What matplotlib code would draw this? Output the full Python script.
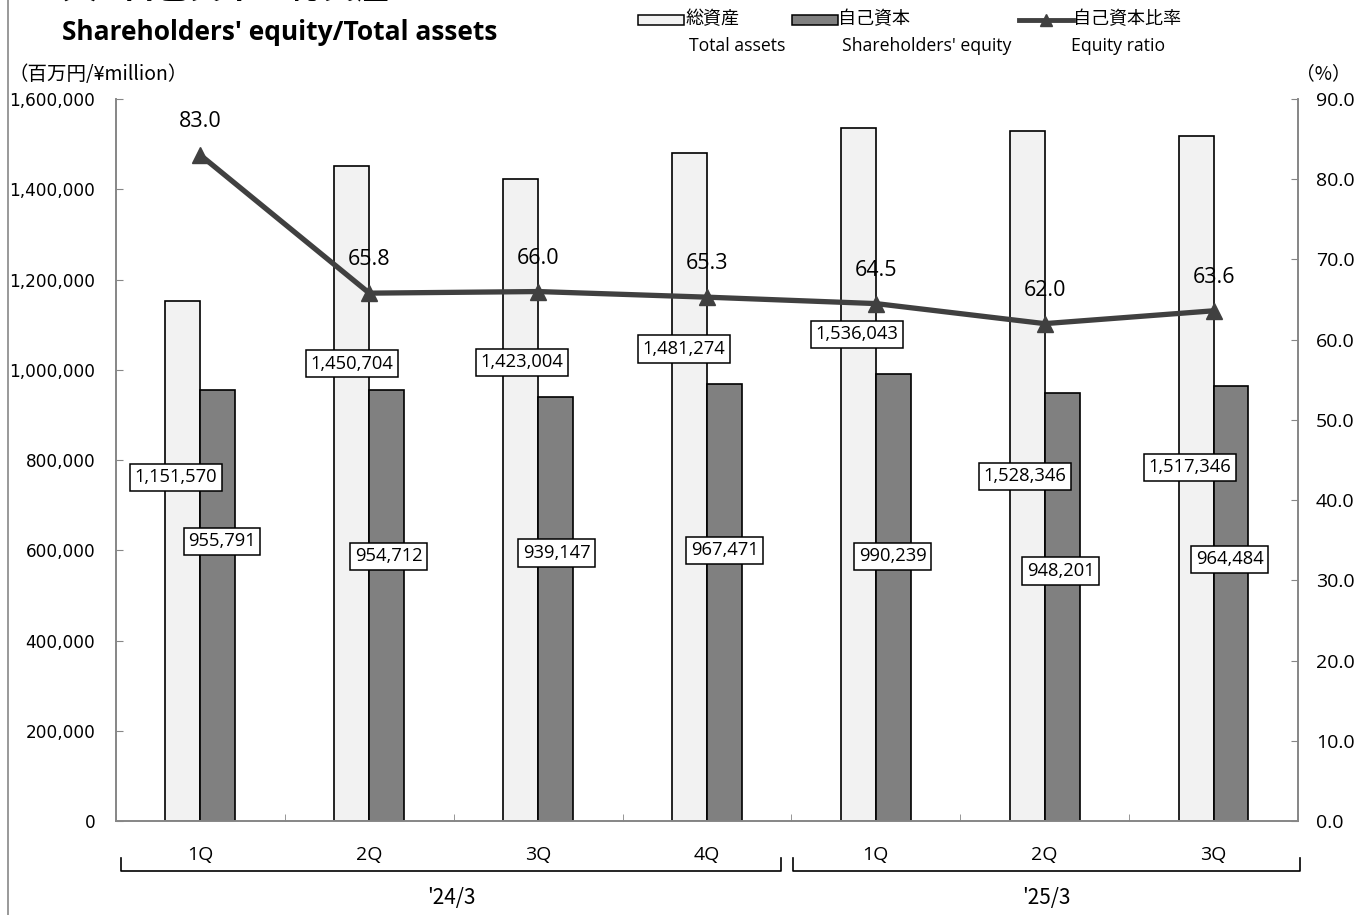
import matplotlib.pyplot as plt
from matplotlib.lines import Line2D
from matplotlib.patches import Rectangle
from matplotlib.ticker import FuncFormatter, MultipleLocator
import numpy as np

plt.rcParams['font.family'] = ['Open Sans', 'Noto Sans CJK JP', 'DejaVu Sans']

# data
quarters = ['1Q', '2Q', '3Q', '4Q', '1Q', '2Q', '3Q']
years = ["'24/3", "'25/3"]
total_assets = [1151570, 1450704, 1423004, 1481274, 1536043, 1528346, 1517346]
equity = [955791, 954712, 939147, 967471, 990239, 948201, 964484]
equity_ratio = [83.0, 65.8, 66.0, 65.3, 64.5, 62.0, 63.6]

# label placement (manual, as in the source chart)
total_lbl_dx = [-0.145, -0.103, -0.096, -0.137, -0.113, -0.118, -0.141]
total_lbl_y = [762000, 1013000, 1017000, 1046000, 1079000, 764000, 784000]
eq_lbl_dx = [0.128, 0.116, 0.111, 0.106, 0.100, 0.095, 0.096]
eq_lbl_y = [620000, 587000, 594000, 600000, 587000, 554000, 580000]

fig = plt.figure(figsize=(13.57, 9.15), dpi=100)
ax = fig.add_axes([0.0855, 0.1027, 0.871, 0.7891])
ax2 = ax.twinx()

x = np.arange(len(quarters))
w = 0.207
ax.bar(x - w / 2, total_assets, w, color='#f2f2f2', edgecolor='black', linewidth=1.2, zorder=2)
ax.bar(x + w / 2, equity, w, color='#808080', edgecolor='black', linewidth=1.2, zorder=2)

box = dict(boxstyle='square,pad=0.25', fc='white', ec='black', lw=1.1)
for i in range(len(x)):
    ax.text(x[i] + total_lbl_dx[i], total_lbl_y[i], f'{total_assets[i]:,}', ha='center', va='center',
            fontsize=13.2, bbox=box, zorder=5)
    ax.text(x[i] + eq_lbl_dx[i], eq_lbl_y[i], f'{equity[i]:,}', ha='center', va='center',
            fontsize=13.2, bbox=box, zorder=5)

ax2.plot(x, equity_ratio, color='#404040', lw=3.8, marker='^', markersize=12, zorder=4)
for i in range(len(x)):
    ax2.annotate(f'{equity_ratio[i]:.1f}', (x[i], equity_ratio[i]), xytext=(0, 24),
                 textcoords='offset points', ha='center', va='center', fontsize=15.5)

ax.set_xlim(-0.5, 6.5)
ax.set_ylim(0, 1600000)
ax2.set_ylim(0, 90)
ax.yaxis.set_major_locator(MultipleLocator(200000))
ax.yaxis.set_major_formatter(FuncFormatter(lambda v, p: f'{int(v):,}'))
ax2.yaxis.set_major_locator(MultipleLocator(10))
ax2.yaxis.set_major_formatter(FuncFormatter(lambda v, p: f'{v:.1f}'))

ax.set_xticks(x)
ax.set_xticklabels(quarters, fontsize=14)
ax.set_xticks(np.arange(-0.5, 7, 1), minor=True)
ax.tick_params(axis='x', which='major', length=0, pad=18)
ax.tick_params(axis='x', which='minor', direction='in', length=5, color='#868686')
ax.tick_params(axis='y', direction='in', length=5, color='#868686', pad=15, labelsize=12.2)
ax2.tick_params(axis='y', direction='in', length=5, color='#868686', pad=13, labelsize=14)
for t in ax.get_yticklabels():
    t.set_fontfamily('DejaVu Sans')

for a in (ax, ax2):
    a.spines['top'].set_visible(False)
    for s in ('left', 'right', 'bottom'):
        a.spines[s].set_color('#868686')
        a.spines[s].set_linewidth(1.2)

# year brackets below axis
trans = ax.get_xaxis_transform()
for x0, x1, yr in [(-0.47, 3.437, years[0]), (3.508, 6.51, years[1])]:
    ax.plot([x0, x0, x1, x1], [-0.051, -0.069, -0.069, -0.051], color='black', lw=1.2,
            transform=trans, clip_on=False)
    ax.text((x0 + x1) / 2, -0.106, yr, transform=trans, ha='center', va='center',
            fontsize=15, family=['Noto Sans CJK JP'])

# titles and units
fig.text(0.027, 1.012, '（7）自己資本・総資産', fontsize=24, fontweight='bold', va='center',
         family=['Noto Sans CJK JP'])
fig.text(0.046, 0.965, "Shareholders' equity/Total assets", fontsize=19, fontweight='bold', va='center')
fig.text(0.006, 0.919, '（百万円/¥million）', fontsize=14, va='center', family=['Noto Sans CJK JP', 'DejaVu Sans'])
fig.text(0.9955, 0.919, '（%）', fontsize=13.5, va='center', ha='right', family=['Noto Sans CJK JP'])

# page border line at left
fig.add_artist(Line2D([0.0059, 0.0059], [0, 1], color='#888888', lw=1.2))

# legend
fig.add_artist(Rectangle((638 / 1357, 1 - 25 / 915), 46 / 1357, 10 / 915, fc='#f2f2f2', ec='black', lw=1.1))
fig.add_artist(Rectangle((792 / 1357, 1 - 25 / 915), 46 / 1357, 10 / 915, fc='#808080', ec='black', lw=1.1))
fig.add_artist(Line2D([1019 / 1357, 1073 / 1357], [1 - 20 / 915] * 2, color='#404040', lw=3.5,
                      transform=fig.transFigure))
fig.add_artist(Line2D([1046 / 1357], [1 - 20 / 915], color='#404040', marker='^', markersize=8,
                      transform=fig.transFigure))
jp_leg = ['総資産', '自己資本', '自己資本比率']
en_leg = ['Total assets', "Shareholders' equity", 'Equity ratio']
for jx, ex, jt, et in zip([685, 838, 1073], [689, 842, 1071], jp_leg, en_leg):
    fig.text(jx / 1357, 1 - 19 / 915, jt, fontsize=13, va='center', family=['Noto Sans CJK JP'])
    fig.text(ex / 1357, 1 - 46 / 915, et, fontsize=12.7, va='center')

fig.savefig('out.png', dpi=100)
plt.close(fig)
